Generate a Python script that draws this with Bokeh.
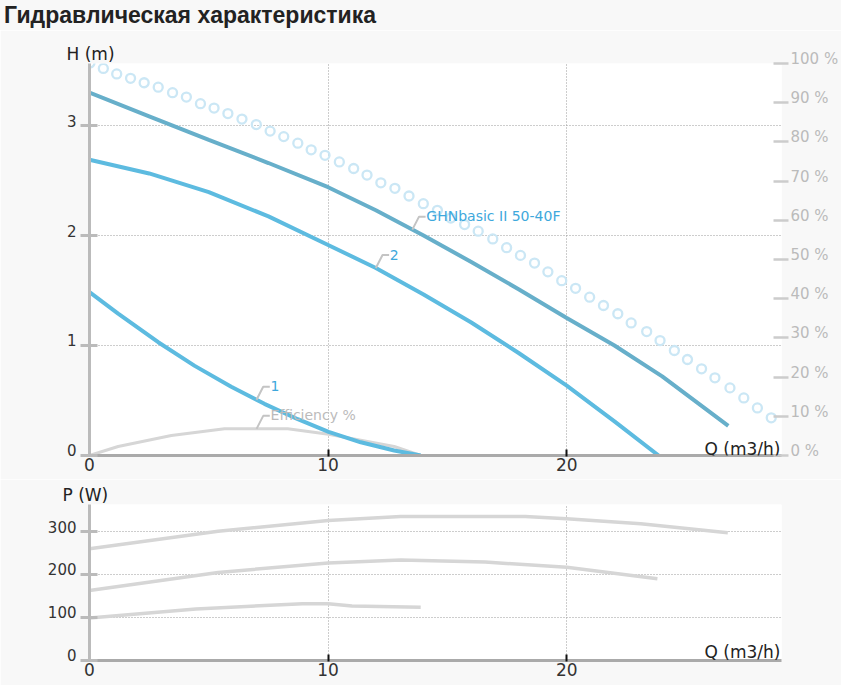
import numpy as np
from bokeh.plotting import figure
from bokeh.models import Range1d, LinearAxis, FixedTicker, Label, Title, Div
from bokeh.layouts import column
from bokeh.embed import file_html
from bokeh.resources import INLINE

# ---------------- data ----------------
title_text = "Гидравлическая характеристика"
q_ticks = [0, 10, 20]
h_ticks = [0, 1, 2, 3]
eff_ticks = [0, 10, 20, 30, 40, 50, 60, 70, 80, 90, 100]
p_ticks = [0, 100, 200, 300]

# head curves (Q m3/h, H m)
ghn_q = [0, 2.5, 5, 7.5, 10, 12, 14, 16, 18, 20, 22, 24, 26.77]
ghn_h = [3.30, 3.085, 2.87, 2.66, 2.44, 2.23, 2.00, 1.76, 1.51, 1.25, 1.00, 0.72, 0.27]
c2_q = [0, 2.5, 5, 7.5, 10, 12, 14, 16, 18, 20, 22, 23.85]
c2_h = [2.69, 2.565, 2.395, 2.175, 1.915, 1.705, 1.465, 1.21, 0.93, 0.635, 0.31, 0.0]
c1_q = [0, 1.2, 2.88, 4.41, 5.94, 7.33, 8.73, 10.02, 11.37, 12.77, 13.88]
c1_h = [1.485, 1.29, 1.03, 0.815, 0.625, 0.47, 0.33, 0.215, 0.12, 0.045, 0.0]

# efficiency (%)
eff_q = [0, 1.2, 3.43, 5.66, 8.31, 10.02, 12.77, 13.88]
eff_pct = [0, 2.3, 5.1, 6.8, 6.8, 5.4, 2.3, 0]

# dotted (circle) curve
circ_q = [0.02, 0.58, 1.14, 1.72, 2.29, 2.88, 3.48, 4.06, 4.65, 5.22, 5.80, 6.39, 6.99,
          7.57, 8.14, 8.73, 9.29, 9.87, 10.47, 11.07, 11.63, 12.21, 12.80, 13.39, 13.99,
          14.58, 15.14, 15.72, 16.29, 16.90, 17.48, 18.06, 18.65, 19.21, 19.79, 20.37,
          20.96, 21.54, 22.14, 22.70, 23.35, 23.91, 24.51, 25.06, 25.65, 26.21, 26.84,
          27.42, 27.99, 28.57]
circ_h = [3.57, 3.52, 3.47, 3.43, 3.39, 3.35, 3.30, 3.26, 3.20, 3.16, 3.11, 3.06, 3.01,
          2.95, 2.90, 2.84, 2.78, 2.73, 2.67, 2.61, 2.55, 2.48, 2.43, 2.36, 2.29,
          2.23, 2.16, 2.10, 2.04, 1.97, 1.89, 1.82, 1.75, 1.67, 1.59, 1.52,
          1.44, 1.364, 1.289, 1.206, 1.127, 1.045, 0.955, 0.873, 0.788, 0.706, 0.615,
          0.524, 0.433, 0.343]

# power curves (W)
pw3_q = [0, 5.39, 10, 13.04, 18.26, 20, 23.1, 26.75]
pw3 = [260, 301, 326, 335, 335, 330, 318, 297]
pw2_q = [0, 5.39, 10, 13.04, 16.58, 20, 23.8]
pw2 = [163, 205, 227, 234, 229, 217, 190]
pw1_q = [0, 4.46, 8.93, 10, 11, 13.88]
pw1 = [99, 120, 132, 132, 127, 124]

# ---------------- style ----------------
FONT = "DejaVu Sans"
DARK = "#67afca"
LIGHT = "#5dbbe0"
LABEL_BLUE = "#3ea8dc"
GREY_CURVE = "#d6d6d6"
BG = "#f8f8f8"

W = 841
LB, RB = 89, 58
FW = W - LB - RB          # frame width
X_MAX = 29.0
DIV_H = 30
H1, TOP1, BOT1 = 479 - DIV_H, 63 - DIV_H, 24
H2, TOP2, BOT2 = 206, 25, 25
Y1_MAX = 3.565
Y2_MAX = 363.0
sx = FW / X_MAX
sy1 = (H1 - TOP1 - BOT1) / Y1_MAX
sy_eff = (H1 - TOP1 - BOT1) / 100.0


def raised(ticks, suffix=""):
    # tick text lifted slightly above its tick, as in the original
    return {t: f"{t}{suffix}\n" for t in ticks}


def base_fig(height, top, bottom, ymax):
    p = figure(width=W, height=height, x_range=Range1d(0, X_MAX), y_range=Range1d(0, ymax),
               output_backend="svg", toolbar_location=None,
               min_border_left=LB, min_border_right=RB, min_border_top=top, min_border_bottom=bottom)
    p.background_fill_color = "#ffffff"
    p.border_fill_color = BG
    p.outline_line_color = None
    ax = p.xaxis[0]
    ax.ticker = FixedTicker(ticks=q_ticks)
    ax.axis_line_color = "#aaaaaa"
    ax.axis_line_width = 3
    ax.major_tick_line_color = "#111111"
    ax.major_tick_line_width = 2
    ax.major_tick_in = 6
    ax.major_tick_out = 1
    ax.minor_tick_line_color = None
    ax.major_label_text_font = FONT
    ax.major_label_text_font_size = "17px"
    ax.major_label_text_color = "#333333"
    ax.major_label_standoff = 1
    ay = p.yaxis[0]
    ay.axis_line_color = "#bbbbbb"
    ay.axis_line_width = 3
    ay.major_tick_line_color = "#bbbbbb"
    ay.major_tick_line_width = 3
    ay.major_tick_in = 8
    ay.major_tick_out = 9
    ay.minor_tick_line_color = None
    ay.major_label_text_font = FONT
    ay.major_label_text_font_size = "15px"
    ay.major_label_text_color = "#333333"
    ay.major_label_text_line_height = 0.45
    ay.major_label_standoff = 4
    p.xgrid.ticker = FixedTicker(ticks=q_ticks)
    for g in (p.xgrid[0], p.ygrid[0]):
        g.grid_line_color = "#9a9a9a"
        g.grid_line_dash = "1 2"
        g.grid_line_width = 1
    return p


def inner_title(p, x, y, text, align, xo, yo, y_range_name="default"):
    p.add_layout(Label(x=x, y=y, x_offset=xo, y_offset=yo, text=text, text_align=align,
                       text_baseline="alphabetic", text_font=FONT, text_font_size="17px",
                       text_color="#222222", y_range_name=y_range_name))


def side_title(p, text, offset, size="17px", font=FONT, style="normal", standoff=0):
    p.add_layout(Title(text=text, align="left", offset=offset, text_font=font,
                       text_font_size=size, text_font_style=style, text_color="#222222",
                       standoff=standoff), "above")


def callout(p, xa, ya, text, color, sy, size, y_range_name="default"):
    xs = [xa, xa + 6.7 / sx, xa + 13.3 / sx]
    ys = [ya, ya + 13.0 / sy, ya + 13.0 / sy]
    p.line(xs, ys, line_color="#c4c4c4", line_width=2, y_range_name=y_range_name)
    p.add_layout(Label(x=xa, y=ya, x_offset=14, y_offset=13.5, text=text,
                       text_baseline="middle", text_align="left", text_font=FONT,
                       text_font_size=size, text_color=color, y_range_name=y_range_name))


# ---------------- page title ----------------
head = Div(text=title_text, width=W, height=DIV_H, margin=(0, 0, 0, 0),
           styles={"font-family": "Liberation Sans", "font-weight": "bold", "font-size": "23px",
                   "color": "#222222", "line-height": f"{DIV_H}px", "text-indent": "4px",
                   "background-color": BG, "white-space": "nowrap", "overflow": "hidden"})

# ---------------- figure 1: head ----------------
p1 = base_fig(H1, TOP1, BOT1, Y1_MAX)
p1.yaxis[0].ticker = FixedTicker(ticks=h_ticks)
p1.yaxis[0].major_label_overrides = raised(h_ticks)
p1.ygrid[0].ticker = FixedTicker(ticks=h_ticks)

p1.extra_y_ranges = {"eff": Range1d(0, 100)}
ra = LinearAxis(y_range_name="eff", ticker=FixedTicker(ticks=eff_ticks))
ra.axis_line_color = None
ra.major_tick_line_color = "#cccccc"
ra.major_tick_line_width = 2.5
ra.major_tick_in = 8
ra.major_tick_out = 7
ra.minor_tick_line_color = None
ra.major_label_text_font = FONT
ra.major_label_text_font_size = "15px"
ra.major_label_text_color = "#bbbbbb"
ra.major_label_text_line_height = 0.5
ra.major_label_standoff = 2
ra.major_label_overrides = raised(eff_ticks, " %")
p1.add_layout(ra, "right")

p1.scatter(circ_q, circ_h, marker="circle", size=9, fill_color=None,
           line_color="#cbe7f5", line_width=2.3)
p1.line(eff_q, eff_pct, y_range_name="eff", line_color=GREY_CURVE, line_width=3)
p1.line(c1_q, c1_h, line_color=LIGHT, line_width=4)
p1.line(c2_q, c2_h, line_color=LIGHT, line_width=4)
p1.line(ghn_q, ghn_h, line_color=DARK, line_width=4)

callout(p1, 13.53, float(np.interp(13.53, ghn_q, ghn_h)), "GHNbasic II 50-40F", LABEL_BLUE, sy1, "14px")
callout(p1, 12.0, float(np.interp(12.0, c2_q, c2_h)), "2", LABEL_BLUE, sy1, "14px")
callout(p1, 7.0, float(np.interp(7.0, c1_q, c1_h)), "1", LABEL_BLUE, sy1, "14px")
callout(p1, 7.0, float(np.interp(7.0, eff_q, eff_pct)), "Efficiency %", "#bbbbbb", sy_eff, "14px",
        y_range_name="eff")

side_title(p1, "H (m)", 66 - LB)
inner_title(p1, X_MAX, 0, "Q (m3/h)", "right", -1, 7)

# ---------------- figure 2: power ----------------
p2 = base_fig(H2, TOP2, BOT2, Y2_MAX)
p2.yaxis[0].ticker = FixedTicker(ticks=p_ticks)
p2.yaxis[0].major_label_overrides = raised(p_ticks)
p2.ygrid[0].ticker = FixedTicker(ticks=p_ticks)

p2.line(pw3_q, pw3, line_color=GREY_CURVE, line_width=3.5)
p2.line(pw2_q, pw2, line_color=GREY_CURVE, line_width=3.5)
p2.line(pw1_q, pw1, line_color=GREY_CURVE, line_width=3.5)

side_title(p2, "P (W)", 62 - LB)
inner_title(p2, X_MAX, 0, "Q (m3/h)", "right", -1, 9)

layout = column(head, p1, p2, spacing=0)
open("out.html", "w").write(file_html(layout, INLINE))
